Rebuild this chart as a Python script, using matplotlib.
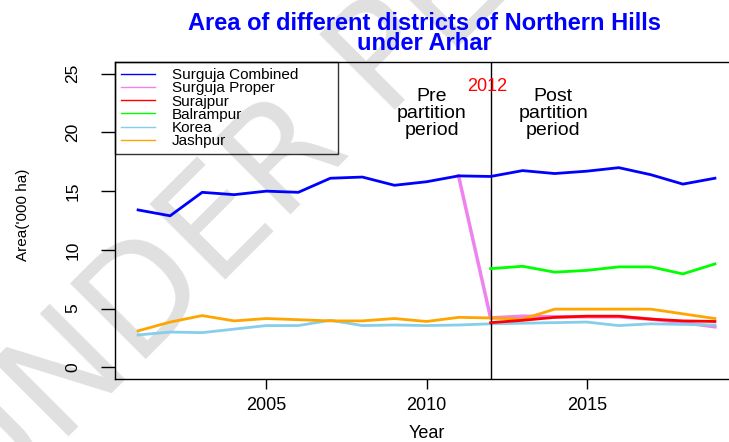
import matplotlib
matplotlib.use("Agg")
import matplotlib.pyplot as plt

plt.rcParams['font.family'] = ['Liberation Sans', 'DejaVu Sans']

years = list(range(2001, 2020))
post_years = list(range(2012, 2020))

surguja_combined = [13.4, 12.9, 14.9, 14.7, 15.0, 14.9, 16.1, 16.2, 15.5, 15.8, 16.3,
                    16.25, 16.75, 16.5, 16.7, 17.0, 16.4, 15.6, 16.1]
# Surguja Proper is the same as Combined until the 2012 partition
proper_years = list(range(2011, 2020))
surguja_proper = [16.3, 4.2, 4.35, 4.3, 4.3, 4.3, 4.1, 3.8, 3.45]
surajpur = [3.8, 4.0, 4.25, 4.35, 4.35, 4.1, 3.95, 3.9]
balrampur = [8.4, 8.6, 8.1, 8.25, 8.55, 8.55, 7.95, 8.8]
korea = [2.75, 3.0, 2.95, 3.25, 3.55, 3.55, 4.0, 3.55, 3.6, 3.55, 3.6,
         3.7, 3.75, 3.8, 3.85, 3.55, 3.7, 3.65, 3.6]
jashpur = [3.1, 3.85, 4.4, 3.95, 4.15, 4.05, 3.95, 3.95, 4.15, 3.9, 4.25,
           4.2, 4.1, 4.95, 4.95, 4.95, 4.95, 4.55, 4.15]

fig = plt.figure(figsize=(7.29, 4.42), dpi=100)
ax = fig.add_axes([115/729, 63/442, 623/729, 317/442])
ax.patch.set_alpha(0)

# watermark behind everything
fig.text(-0.023, -0.181, 'UNDER PEER REVIEW', fontsize=105, color='#e0e0e0',
         rotation=45, rotation_mode='anchor', ha='left', va='baseline',
         zorder=-1, family='DejaVu Sans')

ax.plot(years, surguja_combined, color='blue', lw=2, label='Surguja Combined', zorder=3)
ax.plot(proper_years, surguja_proper, color='violet', lw=2.5, label='Surguja Proper', zorder=2)
ax.plot(post_years, surajpur, color='red', lw=2, label='Surajpur', zorder=3)
ax.plot(post_years, balrampur, color='#00ff00', lw=2, label='Balrampur', zorder=3)
ax.plot(years, korea, color='skyblue', lw=2, label='Korea', zorder=2)
ax.plot(years, jashpur, color='orange', lw=2, label='Jashpur', zorder=2)

ax.axvline(2012, color='black', lw=1)

ax.set_xlim(2000.28, 2019.72)
ax.set_ylim(-1.0, 26.0)
ax.set_xticks([2005, 2010, 2015])
ax.set_yticks([0, 5, 10, 15, 20, 25])
ax.tick_params(axis='x', direction='out', length=7, width=1, labelsize=13, pad=6)
ax.tick_params(axis='y', direction='out', length=10, width=1, labelsize=12.5, pad=15)
for lbl in ax.get_yticklabels():
    lbl.set_rotation(90)
    lbl.set_va('center')
for sp in ax.spines.values():
    sp.set_linewidth(1)

ax.set_xlabel('Year', fontsize=13)
ax.xaxis.set_label_coords((427 - 115)/623, (380 - 434)/317)
ax.xaxis.label.set_va('center')
ax.set_ylabel("Area('000 ha)", fontsize=11)
ax.yaxis.set_label_coords((23 - 115)/623, (380 - 216)/317)
ax.yaxis.label.set_va('center')

fig.text(424/729, 1 - 33.5/442, 'Area of different districts of Northern Hills\nunder Arhar',
         fontsize=17, fontweight='bold', color='blue', ha='center', va='center',
         linespacing=0.85)

ax.text(2010.16, 21.6, 'Pre\npartition\nperiod', fontsize=14, ha='center', va='center',
        linespacing=1.0)
ax.text(2011.9, 23.9, '2012', fontsize=13, color='red', ha='center', va='center')
ax.text(2013.95, 21.6, 'Post\npartition\nperiod', fontsize=14, ha='center', va='center',
        linespacing=1.0)

leg = ax.legend(loc='upper left', bbox_to_anchor=(0, 1, 223/623, 0), mode='expand',
                borderaxespad=0, fontsize=11, labelspacing=-0.05, handlelength=2.2,
                handletextpad=1.1, borderpad=0.4, fancybox=False, edgecolor='black',
                facecolor='none')
leg.get_frame().set_linewidth(1)
for h in leg.get_lines():
    h.set_linewidth(1)

fig.savefig('out.png', dpi=100)
